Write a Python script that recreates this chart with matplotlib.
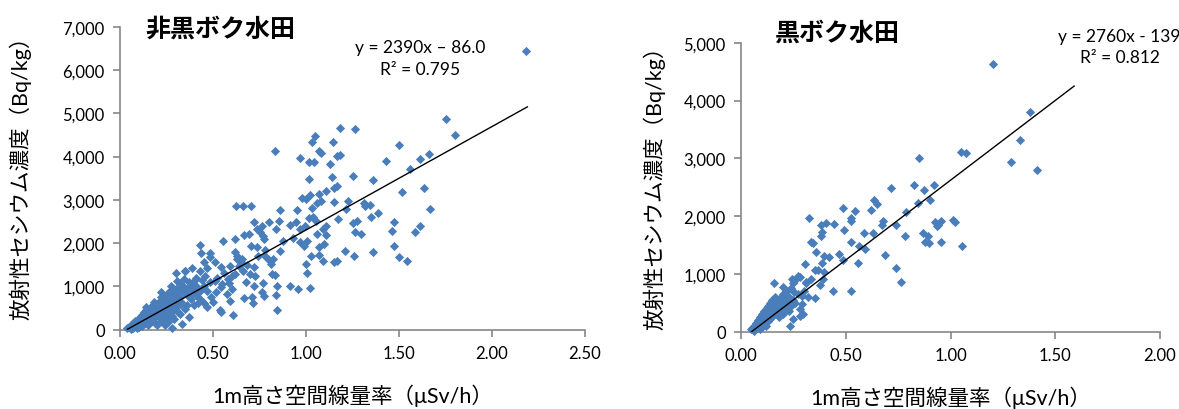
import matplotlib
matplotlib.use("Agg")
import matplotlib.pyplot as plt
from matplotlib.ticker import FuncFormatter, MultipleLocator

plt.rcParams['font.family'] = ['Lato', 'Noto Sans CJK JP', 'DejaVu Sans']

# 非黒ボク水田: air dose rate at 1 m (uSv/h) vs radiocesium (Bq/kg)
nonkuro_dose = [
    2.184, 1.751, 1.803, 1.181, 1.261, 1.048, 1.032, 1.143, 0.833, 1.069,
    1.079, 1.168, 1.181, 0.970, 1.017, 1.044, 1.131, 1.499, 1.429, 1.661,
    1.615, 1.557, 1.017, 1.141, 1.253, 1.361, 1.164, 1.150, 1.110, 1.636,
    1.516, 1.024, 1.069, 0.980, 0.999, 1.081, 1.061, 1.149, 1.226, 1.311,
    1.344, 0.622, 0.659, 0.705, 0.860, 0.953, 1.665, 1.214, 1.317, 1.388,
    1.030, 1.348, 1.474, 1.614, 1.586, 1.462, 1.172, 1.255, 1.274, 1.263,
    1.296, 1.210, 1.259, 1.361, 1.472, 1.499, 1.541, 0.718, 0.735, 0.800,
    0.837, 0.854, 0.914, 0.945, 0.966, 0.997, 1.017, 1.038, 1.052, 1.090,
    1.106, 0.928, 0.966, 0.987, 1.007, 1.061, 1.069, 1.094, 1.110, 1.028,
    1.069, 1.090, 1.152, 1.166, 0.999, 1.007, 1.024, 0.955, 0.912, 0.842,
    0.837, 0.846, 0.763, 0.755, 0.771, 0.775, 0.693, 0.668, 0.618, 0.552,
    0.703, 0.738, 0.779, 0.820, 0.862, 0.874, 0.810, 0.816, 0.835, 0.769,
    0.763, 0.775, 0.709, 0.713, 0.668, 0.718, 0.675, 0.700, 0.726, 0.641,
    0.655, 0.618, 0.631, 0.593, 0.542, 0.511, 0.486, 0.432, 0.434, 0.484,
    0.449, 0.469, 0.428, 0.387, 0.349, 0.300, 0.345, 0.397, 0.459, 0.486,
    0.511, 0.449, 0.407, 0.542, 0.587, 0.602, 0.573, 0.593, 0.517, 0.490,
    0.500, 0.469, 0.535, 0.542, 0.608, 0.362, 0.418, 0.370, 0.335, 0.279,
    0.325, 0.263, 0.283, 0.308, 0.273, 0.308, 0.370, 0.325, 0.221, 0.246,
    0.63, 0.65, 0.60, 0.62, 0.66, 0.68, 0.72, 0.74, 0.78, 0.80,
    0.56, 0.58, 0.52, 0.55, 0.47, 0.44, 0.41, 0.39, 0.36, 0.38,
    0.43, 0.45, 0.40, 0.33, 0.35, 0.31, 0.29, 0.26, 0.24,
    0.04, 0.05, 0.06, 0.06, 0.07, 0.07, 0.08, 0.08, 0.09, 0.09,
    0.10, 0.10, 0.10, 0.11, 0.11, 0.12, 0.12, 0.12, 0.13, 0.13,
    0.13, 0.14, 0.14, 0.14, 0.15, 0.15, 0.15, 0.16, 0.16, 0.16,
    0.17, 0.17, 0.17, 0.18, 0.18, 0.18, 0.19, 0.19, 0.19, 0.20,
    0.20, 0.20, 0.21, 0.21, 0.22, 0.22, 0.22, 0.23, 0.23, 0.24,
    0.24, 0.25, 0.25, 0.26, 0.26, 0.27, 0.27, 0.28, 0.28, 0.29,
    0.30, 0.30, 0.31, 0.32, 0.33, 0.34, 0.35, 0.36, 0.37, 0.38,
    0.40, 0.41, 0.42, 0.44,
    0.11, 0.13, 0.15, 0.17, 0.19, 0.21, 0.23, 0.25, 0.27, 0.29,
    0.14, 0.18, 0.22, 0.26, 0.30, 0.34, 0.24, 0.28, 0.32, 0.20,
]
nonkuro_cs = [
    6445, 4866, 4497, 4651, 4635, 4481, 4343, 4327, 4127, 4127,
    4081, 4019, 4035, 3958, 3865, 3865, 3835, 4266, 3904, 4050,
    3942, 3711, 3480, 3527, 3542, 3457, 3311, 3280, 3203, 3273,
    3172, 3111, 3134, 3034, 3018, 2972, 2926, 2957, 2972, 2926,
    2887, 2864, 2864, 2849, 2772, 2772, 2787, 2787, 2864, 2695,
    2802, 2603, 2495, 2403, 2248, 2272, 2557, 2464, 2518, 2248,
    2210, 1810, 1709, 1786, 1925, 1671, 1586, 2495, 2325, 2495,
    2325, 2518, 2418, 2480, 2325, 2403, 2572, 2595, 2518, 2325,
    2403, 2110, 2017, 1940, 2056, 2210, 1902, 1979, 2187, 1709,
    1725, 1594, 1555, 1586, 1509, 1309, 955, 939, 1016, 1016,
    801, 462, 2403, 2248, 2156, 2094, 2210, 2187, 2094, 2056,
    1940, 1902, 1709, 1632, 1825, 2056, 1517, 1286, 1263, 1078,
    862, 785, 747, 616, 731, 1016, 1093, 1286, 1247, 1478,
    1632, 1786, 1632, 1478, 1440, 1555, 1671, 1956, 1771, 1771,
    1555, 1417, 1363, 1417, 1363, 1309, 1170, 1132, 1247, 1093,
    1132, 1016, 1001, 978, 1070, 939, 824, 670, 862, 747,
    631, 516, 462, 416, 339, 570, 616, 285, 131, 31,
    362, 554, 708, 824, 1016, 1132, 785, 939, 862, 770,
    1700, 1560, 1230, 1280, 1350, 1500, 1450, 1700, 1850, 1600,
    1300, 1180, 1200, 1050, 900, 950, 800, 900, 950, 1000,
    700, 620, 560, 600, 480, 400, 250, 180, 120,
    30, 60, 20, 100, 50, 150, 80, 200, 120, 30,
    180, 250, 60, 300, 140, 220, 350, 90, 280, 400,
    160, 320, 450, 200, 380, 250, 120, 500, 300, 420,
    350, 550, 200, 450, 600, 280, 400, 520, 150, 600,
    350, 480, 650, 300, 550, 420, 200, 700, 500, 380,
    600, 800, 450, 650, 300, 550, 900, 700, 400, 600,
    950, 500, 750, 1050, 650, 900, 1350, 800, 1100, 700,
    950, 1200, 850, 1150,
    210, 340, 180, 420, 300, 480, 360, 540, 420, 800,
    520, 640, 760, 850, 600, 1000, 260, 320, 750, 100,
]

# 黒ボク水田
kuro_dose = [
    1.202, 1.378, 1.332, 1.050, 1.073, 1.290, 1.411, 0.848, 0.714, 0.828,
    0.872, 0.922, 0.902, 0.844, 0.634, 0.647, 0.619, 0.485, 0.543, 0.523,
    0.526, 0.326, 0.381, 0.404, 0.388, 0.382, 0.444, 0.492, 0.585, 0.629,
    0.677, 0.673, 0.738, 0.789, 0.784, 0.867, 0.893, 0.879, 0.897, 0.925,
    0.939, 0.953, 0.937, 1.011, 1.020, 0.955, 1.056, 0.523, 0.562, 0.590,
    0.559, 0.687, 0.467, 0.485, 0.421, 0.396, 0.386, 0.359, 0.335, 0.345,
    0.307, 0.351, 0.368, 0.398, 0.391, 0.377, 0.335, 0.308, 0.441, 0.527,
    0.738, 0.765, 0.354, 0.293, 0.294, 0.280, 0.250, 0.233, 0.157, 0.271,
    0.245, 0.201, 0.254, 0.289,
    0.05, 0.06, 0.06, 0.07, 0.07, 0.08, 0.08, 0.09, 0.09, 0.10,
    0.10, 0.10, 0.11, 0.11, 0.12, 0.12, 0.12, 0.13, 0.13, 0.13,
    0.14, 0.14, 0.14, 0.15, 0.15, 0.15, 0.16, 0.16, 0.16, 0.17,
    0.17, 0.18, 0.18, 0.18, 0.19, 0.19, 0.20, 0.20, 0.20, 0.21,
    0.21, 0.22, 0.22, 0.23, 0.23, 0.24, 0.24, 0.25, 0.25, 0.26,
    0.26, 0.27, 0.28, 0.28, 0.30, 0.31, 0.32,
    0.11, 0.13, 0.15, 0.17, 0.19, 0.21, 0.23, 0.12, 0.16, 0.20,
]
kuro_cs = [
    4631, 3795, 3322, 3114, 3091, 2930, 2797, 3010, 2480, 2537,
    2457, 2537, 2278, 2226, 2272, 2209, 2111, 2145, 2082, 1961,
    1920, 1967, 1851, 1880, 1719, 1649, 1857, 1753, 1701, 1701,
    1920, 1845, 1845, 2065, 1661, 1701, 1649, 1557, 1534, 1903,
    1845, 1920, 1822, 1938, 1903, 1546, 1476, 1557, 1488, 1430,
    1188, 1326, 1344, 1246, 1286, 1303, 1188, 1373, 1546, 1534,
    1171, 1073, 1073, 1027, 911, 807, 911, 853, 709, 709,
    1096, 853, 577, 623, 306, 277, 219, 92, 836, 969,
    911, 767, 680, 479,
    50, 100, 20, 150, 60, 200, 100, 250, 50, 300,
    150, 80, 350, 200, 400, 250, 100, 450, 300, 180,
    500, 350, 220, 550, 400, 280, 600, 450, 300, 500,
    350, 550, 420, 250, 600, 380, 650, 480, 300, 550,
    400, 700, 500, 600, 350, 750, 450, 550, 850, 500,
    900, 650, 950, 400, 700, 850, 600,
    280, 380, 480, 420, 520, 620, 540, 330, 380, 430,
]

panels = [
    (nonkuro_dose, nonkuro_cs, 2390, -86.0, (0.04, 2.19), 2.5, 7000, -0.19),
    (kuro_dose, kuro_cs, 2760, -139, (0.05, 1.59), 2.0, 5000, -0.18),
]
rects = [[0.1018, 0.1934, 0.3944, 0.739], [0.6285, 0.1885, 0.3554, 0.7049]]

fig = plt.figure(figsize=(11.79, 4.10), dpi=100)
gray = "#868686"
for rect, (xs, ys, a, b, xr, xmax, ymax, ylab_x) in zip(rects, panels):
    ax = fig.add_axes(rect)
    ax.scatter(xs, ys, marker="D", s=22, color="#4a7ebb", linewidths=0, zorder=3,
               clip_on=False)
    ax.plot(xr, [a * xr[0] + b, a * xr[1] + b], color="black", lw=1, zorder=4)
    ax.set_xlim(0, xmax)
    ax.set_ylim(0, ymax)
    ax.xaxis.set_major_locator(MultipleLocator(0.5))
    ax.yaxis.set_major_locator(MultipleLocator(1000))
    ax.xaxis.set_major_formatter(FuncFormatter(lambda v, p: f"{v:.2f}"))
    ax.yaxis.set_major_formatter(FuncFormatter(lambda v, p: f"{v:,.0f}"))
    for s in ("top", "right"):
        ax.spines[s].set_visible(False)
    for s in ("left", "bottom"):
        ax.spines[s].set_color(gray)
        ax.spines[s].set_linewidth(1.2)
    ax.tick_params(direction="out", length=5, width=1.2, color=gray,
                   labelsize=12, pad=6)
    ax.set_xlabel("1m高さ空間線量率（μSv/h）", fontsize=15.5, labelpad=16)
    ax.set_ylabel("放射性セシウム濃度（Bq/kg）", fontsize=15.5)
    ax.yaxis.set_label_coords(ylab_x, 0.52)

fig.text(145 / 1179, 1 - 29 / 410, "非黒ボク水田", fontsize=18, fontweight="bold",
         va="center", ha="left")
fig.text(775 / 1179, 1 - 33 / 410, "黒ボク水田", fontsize=18, fontweight="bold",
         va="center", ha="left")
fig.text(420 / 1179, 1 - 48 / 410, "y = 2390x – 86.0", fontsize=12.5, ha="center", va="center")
fig.text(420 / 1179, 1 - 70 / 410, "R² = 0.795", fontsize=12.5, ha="center", va="center")
fig.text(1181 / 1179, 1 - 37 / 410, "y = 2760x - 139", fontsize=12.5, ha="right", va="center")
fig.text(1120 / 1179, 1 - 58 / 410, "R² = 0.812", fontsize=12.5, ha="center", va="center")

fig.savefig("out.png", dpi=100)
